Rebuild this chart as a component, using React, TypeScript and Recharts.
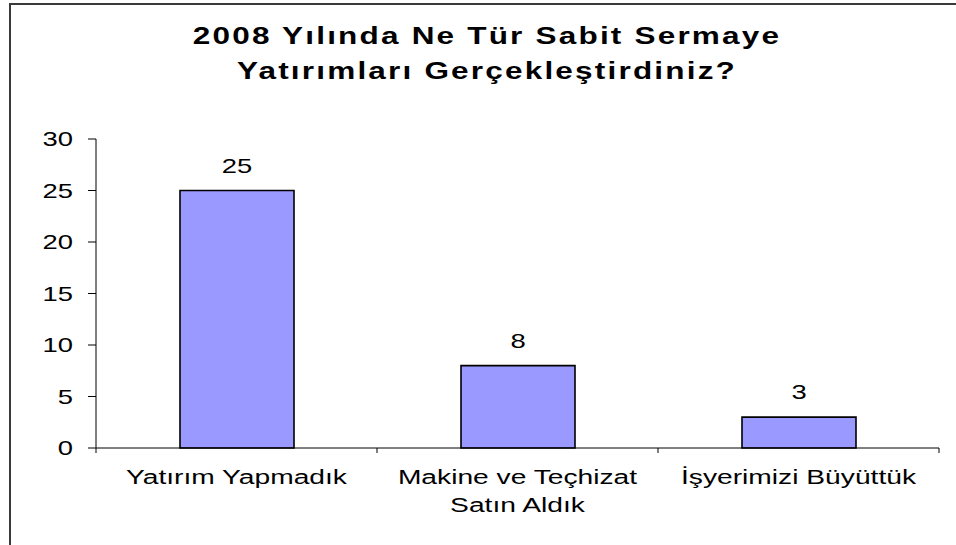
import { BarChart, Bar, XAxis, YAxis, LabelList } from "recharts";

const categories = ["Yatırım Yapmadık", "Makine ve Teçhizat Satın Aldık", "İşyerimizi Büyüttük"];
const counts = [25, 8, 3];
const yTicks = [0, 5, 10, 15, 20, 25, 30];
const titleLines = ["2008 Yılında Ne Tür Sabit Sermaye", "Yatırımları Gerçekleştirdiniz?"];

const data = categories.map((name, i) => ({ name, value: counts[i] }));

const FONT = "'Liberation Sans', Arial, sans-serif";
const STRETCH = 1.37;
const LABEL_STRETCH = 1.41;

function wrapLabel(text: string, maxChars: number) {
    const words = text.split(" ");
    const lines: string[] = [];
    let cur = "";
    for (const w of words) {
        const next = cur ? cur + " " + w : w;
        if (next.length > maxChars && cur) {
            lines.push(cur);
            cur = w;
        } else {
            cur = next;
        }
    }
    if (cur) lines.push(cur);
    return lines;
}

function CategoryTick(props: any) {
    const { x, y, payload, index } = props;
    const half = payload.offset ?? 0;
    const last = index === categories.length - 1;
    const lines = wrapLabel(String(payload.value), 20);
    return (
        <g>
            <line x1={x - half} x2={x - half} y1={y} y2={y + 5} stroke="#000" />
            {last && <line x1={x + half} x2={x + half} y1={y} y2={y + 5} stroke="#000" />}
            <g transform={`translate(${x},${y}) scale(${LABEL_STRETCH},1)`}>
                <text textAnchor="middle" fontSize={20} fontFamily={FONT} fill="#000">
                    {lines.map((l, i) => (
                        <tspan key={i} x={0} y={36 + i * 28}>{l}</tspan>
                    ))}
                </text>
            </g>
        </g>
    );
}

function ValueTick(props: any) {
    const { x, y, payload } = props;
    return (
        <g transform={`translate(${x},${y}) scale(${STRETCH},1)`}>
            <text textAnchor="end" dy="0.36em" fontSize={20} fontFamily={FONT} fill="#000">
                {payload.value}
            </text>
        </g>
    );
}

function BarValue(props: any) {
    const { x, y, width, value } = props;
    return (
        <g transform={`translate(${x + width / 2},${y - 18}) scale(${STRETCH},1)`}>
            <text textAnchor="middle" fontSize={20} fontFamily={FONT} fill="#000">
                {value}
            </text>
        </g>
    );
}

export default function App() {
    const titleStyle = (top: number): React.CSSProperties => ({
        position: "absolute",
        left: 487,
        top,
        transform: `translateX(-50%) scaleX(${STRETCH})`,
        whiteSpace: "nowrap",
        fontFamily: FONT,
        fontWeight: "bold",
        fontSize: 23,
        lineHeight: "23px",
        letterSpacing: 1.6,
        color: "#000"
    });

    return (
        <div style={{ position: "absolute", left: 0, top: 0, width: 956, height: 545, overflow: "hidden", background: "#fff" }}>
            <div style={{ position: "absolute", left: 9, top: 3, width: 980, height: 600, borderTop: "2px solid #3a3a3a", borderLeft: "2px solid #3a3a3a" }} />

            <div style={titleStyle(24.5)}>{titleLines[0]}</div>
            <div style={titleStyle(59.5)}>{titleLines[1]}</div>

            <div style={{ position: "absolute", left: 0, top: 0 }}>
                <BarChart width={956} height={545} data={data}
                          margin={{ top: 139, right: 17, bottom: 37, left: 36 }}>
                    <XAxis dataKey="name" height={60} interval={0}
                           axisLine={{ stroke: "#000" }} tickLine={false}
                           tickSize={0} tickMargin={0} tick={<CategoryTick />} />
                    <YAxis width={60} domain={[0, 30]} ticks={yTicks} interval={0}
                           axisLine={{ stroke: "#000" }} tickLine={{ stroke: "#000" }}
                           tickSize={8} tickMargin={15} tick={<ValueTick />} />
                    <Bar dataKey="value" fill="#9999FF" stroke="#000" strokeWidth={1.6}
                         barSize={114} isAnimationActive={false}>
                        <LabelList dataKey="value" content={<BarValue />} />
                    </Bar>
                </BarChart>
            </div>
        </div>
    );
}
